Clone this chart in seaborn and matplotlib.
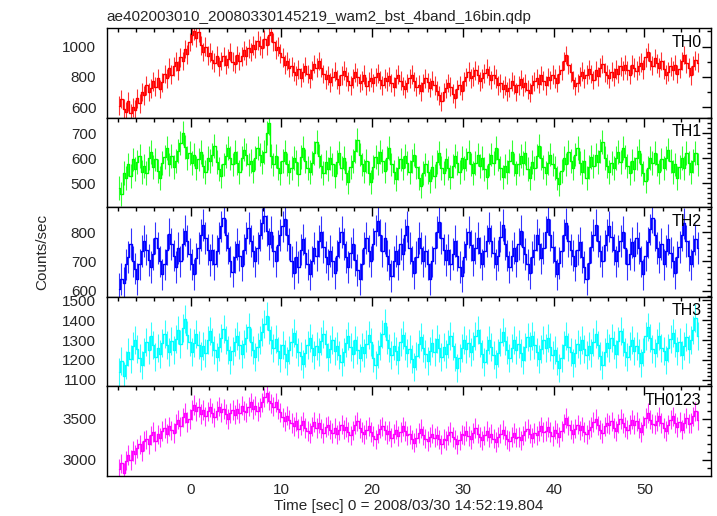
import numpy as np
import pandas as pd
import matplotlib
matplotlib.use("Agg")
import matplotlib.pyplot as plt
from matplotlib.ticker import MultipleLocator
import seaborn as sns

title = "ae402003010_20080330145219_wam2_bst_4band_16bin.qdp"
xlabel = "Time [sec] 0 = 2008/03/30 14:52:19.804"
ylabel = "Counts/sec"
panel_names = ["TH0", "TH1", "TH2", "TH3", "TH0123"]
panel_colors = ["#ff0000", "#00ff00", "#0000ff", "#00ffff", "#ff00ff"]

t_first = -8.0
bin_width = 0.25

th0 = [610, 655, 590, 570, 640, 560, 600, 585, 660, 625, 700, 680, 745, 700, 725, 770,
       735, 790, 720, 765, 820, 790, 860, 815, 870, 900, 845, 930, 905, 985, 950, 1030,
       1075, 1105, 1060, 1095, 1010, 965, 1000, 940, 960, 915, 895, 940, 870, 905, 935, 880,
       920, 965, 900, 885, 945, 905, 935, 975, 940, 990, 965, 1010, 985, 1040, 1005, 990,
       1050, 1010, 1075, 1095, 1030, 980, 1000, 955, 930, 880, 905, 860, 870, 835, 810, 850,
       795, 830, 870, 820, 790, 845, 885, 860, 905, 860, 820, 785, 810, 765, 800, 835,
       785, 750, 810, 840, 805, 770, 745, 790, 830, 800, 760, 775, 815, 740, 770, 795,
       760, 800, 825, 780, 745, 790, 770, 805, 760, 735, 790, 815, 775, 740, 720, 760,
       790, 815, 770, 735, 750, 705, 760, 790, 765, 730, 775, 745, 710, 680, 640, 700,
       725, 760, 735, 690, 660, 720, 745, 710, 770, 800, 835, 790, 805, 845, 815, 770,
       790, 825, 855, 810, 780, 815, 790, 745, 760, 720, 745, 705, 730, 770, 750, 700,
       745, 785, 735, 760, 715, 695, 750, 770, 790, 755, 810, 775, 745, 800, 780, 815,
       790, 760, 820, 845, 905, 945, 880, 830, 780, 740, 760, 805, 835, 790, 815, 850,
       820, 780, 845, 805, 860, 885, 830, 815, 790, 835, 800, 850, 820, 870, 845, 880,
       845, 815, 880, 860, 840, 875, 895, 850, 930, 965, 905, 875, 925, 890, 860, 905,
       850, 815, 835, 870, 845, 880, 820, 855, 905, 945, 890, 860, 810, 875, 910, 895]

th1 = [480, 455, 540, 520, 575, 530, 595, 555, 585, 610, 545, 570, 540, 600, 625, 565,
       595, 550, 520, 580, 605, 640, 575, 610, 565, 590, 630, 660, 700, 645, 600, 620,
       580, 615, 560, 595, 625, 570, 545, 600, 590, 615, 650, 585, 555, 530, 575, 610,
       640, 600, 575, 625, 580, 545, 600, 635, 615, 575, 590, 550, 600, 640, 615, 585,
       625, 700, 740, 610, 575, 610, 560, 540, 590, 625, 575, 545, 560, 600, 585, 535,
       605, 640, 590, 560, 545, 580, 620, 665, 610, 570, 540, 585, 555, 600, 575, 530,
       585, 620, 560, 600, 540, 505, 565, 590, 630, 675, 615, 575, 550, 590, 540, 505,
       565, 605, 580, 625, 590, 550, 600, 640, 575, 545, 515, 560, 595, 560, 610, 580,
       545, 590, 615, 565, 520, 490, 540, 575, 545, 510, 565, 530, 585, 620, 560, 540,
       595, 560, 525, 570, 610, 580, 545, 600, 560, 595, 625, 575, 540, 580, 615, 570,
       600, 555, 525, 575, 615, 580, 640, 595, 560, 525, 570, 545, 590, 625, 575, 540,
       575, 610, 580, 620, 555, 520, 585, 560, 610, 650, 600, 565, 540, 580, 615, 575,
       560, 520, 495, 550, 600, 575, 625, 590, 560, 615, 640, 580, 545, 590, 520, 565,
       605, 570, 615, 585, 630, 665, 600, 570, 545, 580, 560, 600, 625, 585, 640, 605,
       570, 540, 590, 555, 600, 630, 575, 540, 510, 560, 600, 580, 620, 575, 545, 595,
       560, 600, 635, 590, 545, 575, 520, 565, 600, 560, 620, 580, 545, 590, 620, 575]

th2 = [605, 640, 625, 690, 715, 760, 700, 675, 640, 690, 735, 770, 740, 705, 680, 725,
       780, 745, 700, 655, 690, 740, 795, 760, 720, 680, 745, 700, 760, 805, 770, 725,
       690, 655, 710, 745, 790, 825, 780, 740, 705, 740, 690, 735, 780, 820, 850, 790,
       745, 700, 665, 715, 760, 720, 685, 740, 780, 815, 770, 735, 700, 745, 790, 830,
       855, 805, 760, 800, 735, 700, 755, 790, 820, 845, 790, 760, 700, 660, 715, 680,
       740, 775, 730, 690, 655, 700, 745, 720, 770, 800, 750, 715, 690, 735, 700, 660,
       720, 765, 800, 760, 715, 680, 730, 760, 705, 670, 640, 690, 745, 780, 735, 700,
       760, 805, 840, 790, 735, 780, 720, 690, 650, 700, 735, 690, 760, 725, 790, 820,
       745, 700, 660, 715, 780, 745, 700, 735, 690, 640, 700, 745, 800, 835, 780, 740,
       705, 740, 690, 725, 770, 720, 680, 650, 715, 760, 800, 755, 705, 745, 780, 730,
       690, 735, 770, 815, 770, 730, 690, 720, 785, 825, 760, 720, 680, 720, 745, 700,
       760, 805, 750, 725, 690, 660, 715, 740, 790, 760, 710, 745, 800, 845, 790, 750,
       700, 655, 695, 735, 790, 830, 770, 740, 720, 685, 740, 765, 715, 680, 640, 695,
       750, 790, 825, 770, 735, 700, 755, 790, 820, 785, 740, 700, 735, 770, 800, 745,
       690, 725, 765, 720, 780, 745, 700, 655, 720, 765, 810, 850, 790, 745, 715, 760,
       690, 735, 775, 730, 700, 660, 715, 750, 790, 830, 770, 720, 690, 735, 775, 745]

th3 = [1140, 1195, 1120, 1175, 1240, 1205, 1270, 1300, 1255, 1210, 1175, 1240, 1290, 1250, 1320, 1275,
       1215, 1260, 1230, 1285, 1330, 1275, 1240, 1295, 1250, 1305, 1350, 1280, 1360, 1405, 1325, 1290,
       1240, 1285, 1330, 1275, 1220, 1270, 1235, 1300, 1345, 1290, 1250, 1215, 1265, 1310, 1355, 1300,
       1250, 1200, 1245, 1290, 1320, 1275, 1230, 1280, 1310, 1365, 1290, 1250, 1215, 1265, 1300, 1340,
       1380, 1420, 1350, 1300, 1260, 1305, 1245, 1210, 1275, 1230, 1195, 1250, 1290, 1335, 1280, 1240,
       1220, 1180, 1235, 1275, 1310, 1260, 1225, 1270, 1240, 1295, 1330, 1280, 1215, 1255, 1300, 1245,
       1270, 1225, 1190, 1240, 1285, 1320, 1265, 1230, 1300, 1250, 1210, 1265, 1235, 1280, 1325, 1290,
       1210, 1175, 1230, 1270, 1330, 1385, 1300, 1260, 1225, 1270, 1245, 1200, 1290, 1325, 1270, 1235,
       1255, 1205, 1165, 1220, 1280, 1315, 1260, 1230, 1195, 1245, 1285, 1240, 1305, 1260, 1215, 1265,
       1230, 1280, 1320, 1270, 1215, 1160, 1210, 1260, 1300, 1255, 1285, 1240, 1270, 1320, 1350, 1285,
       1230, 1190, 1250, 1300, 1265, 1225, 1180, 1235, 1290, 1340, 1295, 1250, 1210, 1260, 1300, 1250,
       1280, 1235, 1200, 1265, 1315, 1270, 1320, 1275, 1240, 1205, 1255, 1300, 1260, 1310, 1265, 1225,
       1250, 1195, 1160, 1210, 1275, 1320, 1265, 1240, 1185, 1235, 1280, 1250, 1300, 1255, 1225, 1270,
       1235, 1290, 1330, 1275, 1220, 1175, 1240, 1285, 1260, 1310, 1275, 1230, 1295, 1345, 1290, 1240,
       1215, 1270, 1300, 1245, 1270, 1235, 1185, 1240, 1320, 1365, 1310, 1255, 1235, 1285, 1320, 1260,
       1245, 1200, 1260, 1305, 1335, 1285, 1245, 1290, 1225, 1270, 1315, 1255, 1300, 1350, 1410, 1320]

th0123 = [2890, 2960, 2840, 2990, 3060, 3000, 3110, 3070, 3140, 3190, 3110, 3230, 3250, 3190, 3300, 3340,
          3230, 3310, 3270, 3350, 3390, 3320, 3410, 3360, 3330, 3440, 3490, 3410, 3520, 3570, 3460, 3500,
          3610, 3670, 3590, 3640, 3560, 3610, 3530, 3590, 3640, 3570, 3520, 3600, 3650, 3580, 3620, 3560,
          3500, 3570, 3610, 3550, 3620, 3570, 3660, 3600, 3580, 3650, 3700, 3620, 3660, 3590, 3640, 3700,
          3760, 3810, 3720, 3690, 3650, 3700, 3620, 3580, 3520, 3470, 3540, 3490, 3450, 3410, 3470, 3380,
          3420, 3470, 3390, 3350, 3330, 3410, 3460, 3390, 3450, 3380, 3330, 3400, 3420, 3370, 3330, 3390,
          3310, 3360, 3430, 3370, 3400, 3340, 3300, 3360, 3430, 3470, 3390, 3340, 3310, 3370, 3410, 3340,
          3290, 3250, 3320, 3380, 3410, 3360, 3310, 3350, 3270, 3320, 3370, 3290, 3340, 3410, 3350, 3300,
          3310, 3250, 3210, 3270, 3330, 3380, 3300, 3260, 3230, 3280, 3320, 3270, 3300, 3250, 3190, 3260,
          3240, 3300, 3340, 3280, 3250, 3190, 3240, 3310, 3300, 3350, 3290, 3250, 3330, 3390, 3320, 3280,
          3240, 3300, 3350, 3280, 3320, 3260, 3220, 3280, 3320, 3370, 3300, 3250, 3230, 3280, 3330, 3270,
          3280, 3240, 3300, 3350, 3380, 3320, 3270, 3330, 3300, 3350, 3410, 3340, 3350, 3400, 3340, 3290,
          3370, 3330, 3280, 3350, 3440, 3510, 3420, 3370, 3320, 3380, 3430, 3360, 3410, 3340, 3310, 3370,
          3400, 3460, 3500, 3420, 3370, 3330, 3410, 3450, 3430, 3470, 3390, 3350, 3440, 3500, 3450, 3400,
          3370, 3430, 3490, 3430, 3470, 3390, 3340, 3420, 3510, 3570, 3490, 3440, 3430, 3470, 3530, 3450,
          3390, 3350, 3430, 3490, 3530, 3450, 3400, 3460, 3370, 3450, 3510, 3440, 3450, 3530, 3590, 3480]

# half-length of the error bars (counts/sec)
err_half = [62, 48, 54, 71, 118]

y_limits = [(530, 1121), (403, 762), (578, 885), (1066, 1518), (2805, 3894)]
y_major = [200, 100, 100, 100, 500]
y_minor = [100, 20, 20, 20, 100]
x_limits = (-9.25, 57.3)

series = [th0, th1, th2, th3, th0123]

sns.set_theme(style="white")
plt.rcParams["font.family"] = ["Liberation Sans", "DejaVu Sans"]
plt.rcParams["axes.linewidth"] = 1.0

fig = plt.figure(figsize=(7.17, 5.16), dpi=100)
W, H = 717, 516
left_px, right_px, top_px, bottom_px = 106.7, 710.7, 28.3, 476.0
panel_h = (bottom_px - top_px) / 5

for i, (vals, name, col) in enumerate(zip(series, panel_names, panel_colors)):
    y0 = top_px + i * panel_h
    ax = fig.add_axes([left_px / W, 1 - (y0 + panel_h) / H,
                       (right_px - left_px) / W, panel_h / H])
    vals = np.asarray(vals, dtype=float)
    t = t_first + bin_width * (np.arange(len(vals)) + 0.5)
    df = pd.DataFrame({"time": t, "rate": vals})
    ax.vlines(df["time"], df["rate"] - err_half[i], df["rate"] + err_half[i],
              color=col, lw=0.8, alpha=0.8)
    sns.lineplot(data=df, x="time", y="rate", ax=ax, color=col, lw=1.0,
                 drawstyle="steps-mid", estimator=None, sort=False)
    ax.set_xlim(*x_limits)
    ax.set_ylim(*y_limits[i])
    ax.set_xlabel("")
    ax.set_ylabel("")
    ax.xaxis.set_major_locator(MultipleLocator(10))
    ax.xaxis.set_minor_locator(MultipleLocator(2))
    ax.yaxis.set_major_locator(MultipleLocator(y_major[i]))
    ax.yaxis.set_minor_locator(MultipleLocator(y_minor[i]))
    ax.tick_params(which="both", direction="in", top=True, right=True,
                   color="black", width=1.0)
    ax.tick_params(which="major", length=6.5)
    ax.tick_params(which="minor", length=3.2)
    ax.tick_params(axis="y", labelsize=11, pad=7.5)
    ax.tick_params(axis="x", labelsize=11, pad=5)
    for s in ax.spines.values():
        s.set_color("black")
    if i < 4:
        ax.tick_params(axis="x", labelbottom=False)
    ax.text(0.985, 0.93, name, transform=ax.transAxes, ha="right", va="top",
            fontsize=11.5, color="black")

fig.text(left_px / W, 1 - 21 / H, title, ha="left", va="baseline", fontsize=11)
fig.text((left_px + right_px) / 2 / W, 1 - 513 / H, xlabel, ha="center",
         va="bottom", fontsize=11)
fig.text(42 / W, 1 - 252 / H, ylabel, rotation=90, ha="center", va="center",
         fontsize=11)

fig.savefig("out.png", dpi=100)
